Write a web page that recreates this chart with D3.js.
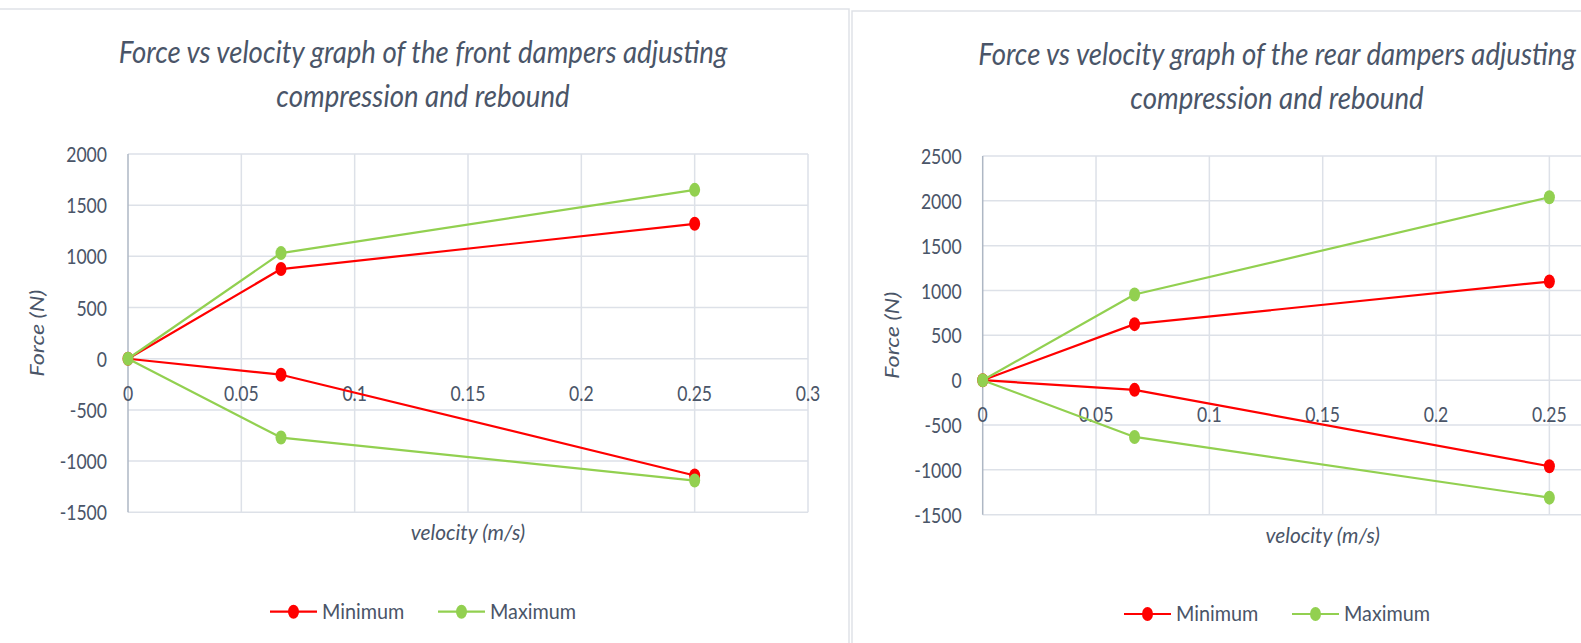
<!DOCTYPE html>
<html>
<head>
<meta charset="utf-8">
<script src="https://cdn.jsdelivr.net/npm/d3@7"></script>
<style>
  html, body { margin: 0; padding: 0; background: #ffffff; }
  svg { display: block; }
</style>
</head>
<body>
<svg id="chart" width="1581" height="643"></svg>
<script>
// ---- Data -------------------------------------------------------------
// Front dampers: velocity (m/s) and force (N) for the two settings
const frontVelocity = [0.25, 0.0675, 0, 0.0675, 0.25];
const frontMinimum  = [-1140, -156, 0, 876, 1318];
const frontMaximum  = [-1190, -770, 0, 1032, 1650];

// Rear dampers
const rearVelocity = [0.25, 0.067, 0, 0.067, 0.25];
const rearMinimum  = [-960, -108, 0, 625, 1100];
const rearMaximum  = [-1310, -633, 0, 955, 2040];

const seriesNames = ["Minimum", "Maximum"];
const xTicks = [0, 0.05, 0.1, 0.15, 0.2, 0.25, 0.3];
const frontYTicks = [-1500, -1000, -500, 0, 500, 1000, 1500, 2000];
const rearYTicks  = [-1500, -1000, -500, 0, 500, 1000, 1500, 2000, 2500];

const frontTitle = ["Force vs velocity graph  of the front dampers adjusting", "compression and rebound"];
const rearTitle  = ["Force vs velocity graph  of the rear dampers adjusting", "compression and rebound"];
const xTitle = "velocity (m/s)";
const yTitle = "Force (N)";

// ---- Styling ----------------------------------------------------------
const colors = { Minimum: "#ff0000", Maximum: "#92d050" };
const textColor = "#4a5568";
const gridColor = "#dde1e8";
const axisColor = "#aeb7c4";
const fontFamily = "Lato, 'Open Sans', sans-serif";
const squeeze = 0.8;   // horizontal compression applied to the lettering
const W = 1581;

const svg = d3.select("#chart");

// Panel frames
svg.append("path")
  .attr("d", "M0,9 H849 V643")
  .attr("fill", "none").attr("stroke", "#dfe2e7").attr("stroke-width", 1.5);
svg.append("path")
  .attr("d", "M852,643 V11 H1581")
  .attr("fill", "none").attr("stroke", "#dfe2e7").attr("stroke-width", 1.5);

function label(g, x, y, str, opts = {}) {
  const rot = opts.rotate ? ` rotate(${opts.rotate})` : "";
  return g.append("text")
    .attr("transform", `translate(${x},${y}) scale(${opts.sx || squeeze},1)${rot}`)
    .attr("text-anchor", opts.anchor || "middle")
    .attr("font-family", fontFamily)
    .attr("font-size", opts.size || 22)
    .attr("font-style", opts.italic ? "italic" : "normal")
    .attr("fill", textColor)
    .text(str);
}

function drawPanel(cfg) {
  const g = svg.append("g");
  const x = d3.scaleLinear().domain([0, 0.3]).range([cfg.left, cfg.left + 680]);
  const y = d3.scaleLinear().domain(cfg.yDomain).range([cfg.bottom, cfg.top]);

  // Title
  cfg.title.forEach((line, i) =>
    label(g, cfg.center, cfg.titleY + i * 44, line, { size: 31, italic: true, sx: 0.89 }));

  // Grid
  g.append("g").selectAll("line").data(cfg.yTicks).join("line")
    .attr("x1", x(0)).attr("x2", x(0.3))
    .attr("y1", d => y(d)).attr("y2", d => y(d))
    .attr("stroke", gridColor).attr("stroke-width", 1.5);
  g.append("g").selectAll("line").data(xTicks.filter(d => d > 0)).join("line")
    .attr("x1", d => x(d)).attr("x2", d => x(d))
    .attr("y1", y(cfg.yDomain[0])).attr("y2", y(cfg.yDomain[1]))
    .attr("stroke", gridColor).attr("stroke-width", 1.5);
  // Vertical axis at zero velocity
  g.append("line")
    .attr("x1", x(0)).attr("x2", x(0))
    .attr("y1", y(cfg.yDomain[0])).attr("y2", y(cfg.yDomain[1]))
    .attr("stroke", axisColor).attr("stroke-width", 1.5);

  // Tick labels (hyphen-minus for negatives, only those inside the page)
  cfg.yTicks.forEach(t => label(g, x(0) - 21, y(t) + 8, String(t), { anchor: "end" }));
  xTicks.filter(t => x(t) + 20 < W)
    .forEach(t => label(g, x(t), y(0) + 42, String(t)));

  // Axis titles
  label(g, (x(0) + x(0.3)) / 2, cfg.bottom + 28, xTitle, { size: 22, italic: true, sx: 0.95 });
  label(g, x(0) - 84, (cfg.top + cfg.bottom) / 2, yTitle, { size: 23.5, italic: true, rotate: -90 });

  // Series
  const line = d3.line().x(d => x(d[0])).y(d => y(d[1]));
  seriesNames.forEach(name => {
    const pts = cfg.velocity.map((v, i) => [v, cfg.series[name][i]]);
    g.append("path").datum(pts)
      .attr("d", line).attr("fill", "none")
      .attr("stroke", colors[name]).attr("stroke-width", 2.2)
      .attr("stroke-linejoin", "round");
    g.append("g").selectAll("ellipse").data(pts).join("ellipse")
      .attr("cx", d => x(d[0])).attr("cy", d => y(d[1]))
      .attr("rx", 5.5).attr("ry", 7)
      .attr("fill", colors[name]);
  });

  // Legend
  const items = seriesNames.map(name => ({ name, w: 47 + 5 + 86 }));
  const gap = 30;
  const total = d3.sum(items, d => d.w) + gap * (items.length - 1);
  let cx = cfg.center - total / 2;
  items.forEach(it => {
    g.append("line")
      .attr("x1", cx).attr("x2", cx + 47)
      .attr("y1", cfg.legendY).attr("y2", cfg.legendY)
      .attr("stroke", colors[it.name]).attr("stroke-width", 2.2);
    g.append("ellipse")
      .attr("cx", cx + 23.5).attr("cy", cfg.legendY)
      .attr("rx", 5.5).attr("ry", 7).attr("fill", colors[it.name]);
    label(g, cx + 52, cfg.legendY + 7, it.name, { anchor: "start", sx: 0.9 });
    cx += it.w + gap;
  });
}

drawPanel({
  left: 128, top: 154, bottom: 512.3, center: 423, titleY: 63, legendY: 611.7,
  yDomain: [-1500, 2000], yTicks: frontYTicks, title: frontTitle,
  velocity: frontVelocity,
  series: { Minimum: frontMinimum, Maximum: frontMaximum }
});
drawPanel({
  left: 982.7, top: 156, bottom: 514.7, center: 1277, titleY: 65, legendY: 614,
  yDomain: [-1500, 2500], yTicks: rearYTicks, title: rearTitle,
  velocity: rearVelocity,
  series: { Minimum: rearMinimum, Maximum: rearMaximum }
});
</script>
</body>
</html>
